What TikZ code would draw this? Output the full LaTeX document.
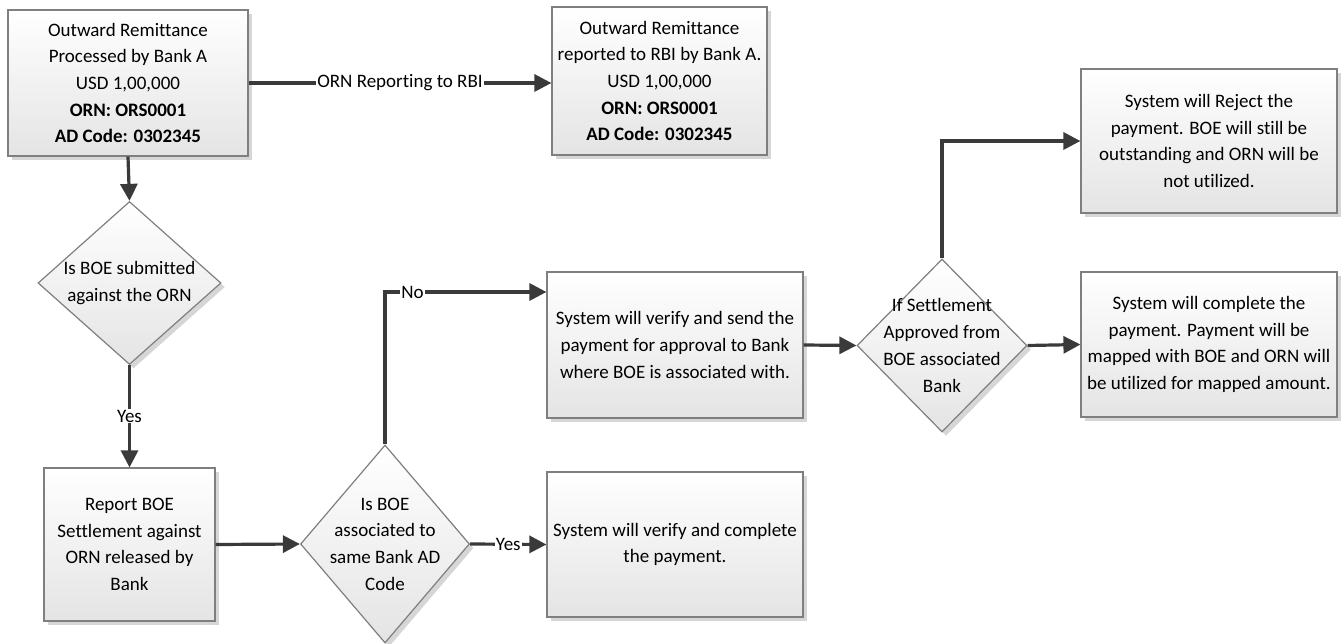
\documentclass[tikz,border=0pt]{standalone}
\usepackage{fontspec}
\setmainfont{Carlito}[Ligatures={NoCommon}]
\usetikzlibrary{arrows.meta,shapes.geometric,shadows,calc}
\definecolor{arrc}{HTML}{3A3A3A}
\definecolor{bordc}{HTML}{7F7F7F}
\definecolor{botc}{HTML}{E4E4E4}
\tikzset{
  procbox/.style={draw=bordc, line width=1.2pt, top color=white, bottom color=botc,
    shading angle=0, inner sep=0pt, align=center, text=black,
    font=\fontsize{19}{26.7}\selectfont,
    drop shadow={shadow xshift=4pt, shadow yshift=-4pt, fill=black!16, opacity=1}},
  decbox/.style={diamond, draw=bordc, line width=1.2pt, top color=white, bottom color=botc,
    inner sep=0pt, aspect=1,
    drop shadow={shadow xshift=4pt, shadow yshift=-4pt, fill=black!16, opacity=1}},
  dtext/.style={align=center, text=black, font=\fontsize{19}{26.7}\selectfont, inner sep=0pt},
  arr/.style={draw=arrc, line width=3.2pt, -{Triangle[length=17pt,width=17pt]}},
  lbl/.style={fill=white, inner sep=1pt, text=black, font=\fontsize{19}{22}\selectfont}
}
\begin{document}
\begin{tikzpicture}[x=1pt,y=-1pt]
\useasboundingbox (0,0) rectangle (1344,644);
% boxes
\node[procbox, minimum width=240pt, minimum height=146pt] (b1) at (128,83)
  {Outward Remittance\\Processed by Bank A\\USD 1,00,000\\\textbf{ORN: ORS0001}\\\textbf{AD Code: 0302345}};
\node[procbox, minimum width=215pt, minimum height=148pt] (b2) at (659.5,81)
  {Outward Remittance\\reported to RBI by Bank A.\\USD 1,00,000\\\textbf{ORN: ORS0001}\\\textbf{AD Code: 0302345}};
\node[decbox, minimum width=183pt, minimum height=163pt] (d1) at (129.5,283) {};
\node[dtext] at (d1.center) {Is BOE submitted\\against the ORN};
\node[procbox, minimum width=171pt, minimum height=153pt] (b3) at (129.5,544.5)
  {Report BOE\\Settlement against\\ORN released by\\Bank};
\node[decbox, minimum width=169pt, minimum height=198pt] (d2) at (385,544) {};
\node[dtext] at (d2.center) {Is BOE\\associated to\\same Bank AD\\Code};
\node[procbox, minimum width=256pt, minimum height=146pt] (b4) at (675,345)
  {System will verify and send the\\payment for approval to Bank\\where BOE is associated with.};
\node[procbox, minimum width=256pt, minimum height=145pt] (b5) at (675,544.5)
  {System will verify and complete\\the payment.};
\node[decbox, minimum width=170pt, minimum height=173pt] (d3) at (942,345.5) {};
\node[dtext] at (d3.center) {If Settlement\\Approved from\\BOE associated\\Bank};
\node[procbox, minimum width=256pt, minimum height=144pt] (b6) at (1209,141)
  {System will Reject the\\payment. BOE will still be\\outstanding and ORN will be\\not utilized.};
\node[procbox, minimum width=256pt, minimum height=145pt] (b7) at (1209,344.5)
  {System will complete the\\payment. Payment will be\\mapped with BOE and ORN will\\be utilized for mapped amount.};
% connectors
\draw[arr] (b1.east) -- node[lbl] {ORN Reporting to RBI} (b1.east -| b2.west);
\draw[arr] (b1.south) -- (d1.north);
\draw[arr] (d1.south) -- node[lbl] {Yes} (b3.north);
\draw[arr] (b3.east) -- (d2.west);
\draw[arr] (d2.east) -- node[lbl] {Yes} (b5.west);
\draw[arr] (d2.north) |- node[lbl, pos=0.585] {No} ([yshift=53pt]b4.west);
\draw[arr] (b4.east) -- (d3.west);
\draw[arr] (d3.north) |- (b6.west);
\draw[arr] (d3.east) -- (b7.west);
\end{tikzpicture}
\end{document}
